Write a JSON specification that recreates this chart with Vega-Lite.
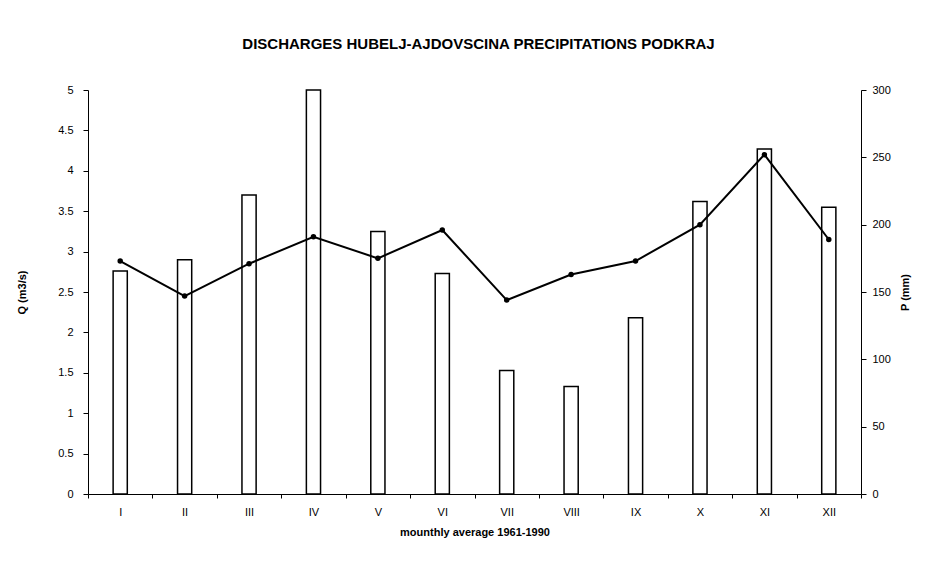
{
  "$schema": "https://vega.github.io/schema/vega-lite/v6.json",
  "width": 773,
  "height": 404,
  "autosize": {"type": "none"},
  "padding": {"left": 88, "top": 90, "right": 88, "bottom": 75},
  "background": "white",
  "config": {
    "view": {"stroke": null},
    "font": "Liberation Sans",
    "axis": {"domainColor": "black", "tickColor": "black", "labelColor": "black", "titleColor": "black", "labelFont": "Liberation Sans", "titleFont": "Liberation Sans", "labelFontSize": 11, "titleFontSize": 11, "titleFontWeight": "bold", "grid": false}
  },
  "title": {"text": "DISCHARGES HUBELJ-AJDOVSCINA PRECIPITATIONS PODKRAJ", "font": "Liberation Sans", "fontSize": 15, "fontWeight": "bold", "color": "black", "offset": 32, "dx": 4},
  "data": {"values": [
    {"month": "I", "Q": 2.76, "P": 173},
    {"month": "II", "Q": 2.9, "P": 147},
    {"month": "III", "Q": 3.7, "P": 171},
    {"month": "IV", "Q": 5.0, "P": 191},
    {"month": "V", "Q": 3.25, "P": 175},
    {"month": "VI", "Q": 2.73, "P": 196},
    {"month": "VII", "Q": 1.53, "P": 144},
    {"month": "VIII", "Q": 1.33, "P": 163},
    {"month": "IX", "Q": 2.18, "P": 173},
    {"month": "X", "Q": 3.62, "P": 200},
    {"month": "XI", "Q": 4.27, "P": 252},
    {"month": "XII", "Q": 3.55, "P": 189}
  ]},
  "encoding": {
    "x": {"field": "month", "type": "ordinal", "sort": null, "scale": {"paddingInner": 0, "paddingOuter": 0},
      "axis": {"title": "mounthly average  1961-1990", "labelAngle": 0, "tickBand": "extent", "tickSize": 4, "labelPadding": 8, "titlePadding": 9}}
  },
  "layer": [
    {
      "mark": {"type": "bar", "fill": "white", "stroke": "black", "strokeWidth": 1.5, "width": {"band": 0.22}},
      "encoding": {
        "y": {"field": "Q", "type": "quantitative", "scale": {"domain": [0, 5]},
          "axis": {"title": "Q (m3/s)", "values": [0, 0.5, 1, 1.5, 2, 2.5, 3, 3.5, 4, 4.5, 5], "format": "~g", "tickSize": 5, "labelPadding": 10, "titlePadding": 30}}
      }
    },
    {
      "mark": {"type": "line", "color": "black", "strokeWidth": 2, "point": {"filled": true, "color": "black", "size": 30}},
      "encoding": {
        "y": {"field": "P", "type": "quantitative", "scale": {"domain": [0, 300]},
          "axis": {"orient": "right", "title": "P (mm)", "titleAngle": 270, "values": [0, 50, 100, 150, 200, 250, 300], "tickSize": 5, "labelPadding": 6, "titlePadding": 20}}
      }
    }
  ],
  "resolve": {"scale": {"y": "independent"}}
}
